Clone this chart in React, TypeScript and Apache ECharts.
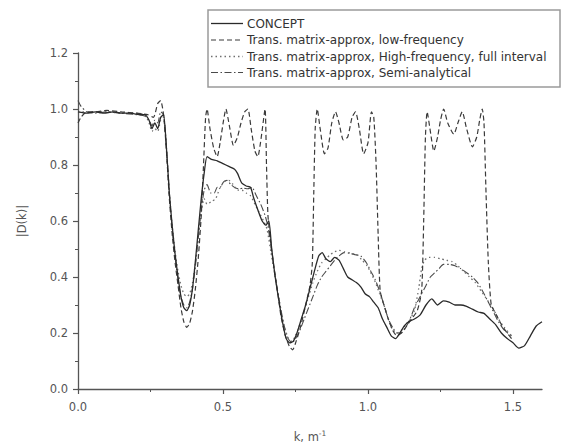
import { useEffect, useRef } from "react";
import * as echarts from "echarts";

const kConcept = [0, 0.03, 0.06, 0.09, 0.12, 0.15, 0.18, 0.21, 0.23, 0.245, 0.255, 0.265, 0.275, 0.285, 0.295, 0.305, 0.315, 0.325, 0.335, 0.345, 0.355, 0.365, 0.375, 0.385, 0.395, 0.405, 0.415, 0.425, 0.435, 0.445, 0.46, 0.48, 0.5, 0.52, 0.54, 0.55, 0.565, 0.58, 0.595, 0.605, 0.62, 0.635, 0.648, 0.658, 0.668, 0.68, 0.692, 0.705, 0.718, 0.73, 0.742, 0.755, 0.77, 0.785, 0.8, 0.815, 0.83, 0.842, 0.855, 0.87, 0.885, 0.9, 0.915, 0.93, 0.945, 0.96, 0.975, 0.99, 1.005, 1.02, 1.035, 1.05, 1.065, 1.08, 1.095, 1.11, 1.125, 1.14, 1.16, 1.18, 1.2, 1.22, 1.24, 1.26, 1.28, 1.3, 1.32, 1.34, 1.36, 1.38, 1.4, 1.42, 1.44, 1.46, 1.48, 1.5, 1.52, 1.54, 1.56, 1.58, 1.6];
const dConcept = [0.99, 0.985, 0.99, 0.985, 0.99, 0.985, 0.985, 0.98, 0.98, 0.96, 0.93, 0.95, 0.93, 0.97, 0.98, 0.86, 0.7, 0.58, 0.48, 0.4, 0.33, 0.29, 0.28, 0.3, 0.36, 0.46, 0.57, 0.68, 0.77, 0.83, 0.82, 0.815, 0.805, 0.795, 0.785, 0.77, 0.735, 0.725, 0.72, 0.685, 0.64, 0.6, 0.585, 0.6, 0.5, 0.4, 0.32, 0.24, 0.18, 0.165, 0.17, 0.2, 0.25, 0.3, 0.36, 0.42, 0.475, 0.487, 0.465, 0.455, 0.47, 0.46, 0.43, 0.4, 0.39, 0.38, 0.365, 0.34, 0.33, 0.31, 0.29, 0.25, 0.22, 0.19, 0.18, 0.2, 0.225, 0.24, 0.25, 0.265, 0.3, 0.322, 0.3, 0.315, 0.31, 0.3, 0.3, 0.295, 0.285, 0.275, 0.27, 0.25, 0.23, 0.2, 0.18, 0.165, 0.146, 0.155, 0.19, 0.225, 0.24];

const kLow = [0, 0.01, 0.03, 0.06, 0.1, 0.15, 0.2, 0.24, 0.26, 0.275, 0.285, 0.295, 0.305, 0.315, 0.325, 0.335, 0.345, 0.355, 0.365, 0.375, 0.385, 0.395, 0.405, 0.415, 0.425, 0.432, 0.44, 0.445, 0.455, 0.468, 0.48, 0.49, 0.502, 0.51, 0.522, 0.536, 0.55, 0.562, 0.575, 0.586, 0.597, 0.61, 0.62, 0.632, 0.645, 0.65, 0.655, 0.665, 0.675, 0.688, 0.7, 0.715, 0.73, 0.74, 0.752, 0.767, 0.785, 0.8, 0.808, 0.813, 0.818, 0.825, 0.835, 0.85, 0.862, 0.875, 0.888, 0.9, 0.915, 0.93, 0.945, 0.957, 0.97, 0.985, 1.0, 1.012, 1.02, 1.028, 1.035, 1.042, 1.055, 1.07, 1.085, 1.1, 1.115, 1.13, 1.15, 1.17, 1.185, 1.192, 1.198, 1.204, 1.215, 1.227, 1.24, 1.25, 1.261, 1.275, 1.296, 1.31, 1.325, 1.34, 1.36, 1.375, 1.385, 1.394, 1.4, 1.407, 1.415, 1.425, 1.44, 1.46, 1.48, 1.495];
const dLow = [0.95, 0.97, 0.99, 0.99, 0.995, 0.99, 0.985, 0.98, 0.97, 1.02, 1.03, 0.98, 0.85, 0.68, 0.55, 0.45, 0.37, 0.29, 0.24, 0.22, 0.235, 0.28, 0.36, 0.47, 0.62, 0.78, 0.97, 1.0, 0.93, 0.86, 0.83, 0.88, 0.96, 1.0, 0.94, 0.87, 0.9, 0.95, 0.99, 1.0, 0.93, 0.85, 0.83, 0.9, 1.0, 0.8, 0.62, 0.52, 0.44, 0.35, 0.26, 0.19, 0.15, 0.14, 0.17, 0.22, 0.3, 0.37, 0.45, 0.7, 0.93, 1.0, 0.93, 0.84, 0.86, 0.95, 0.99, 0.95, 0.89, 0.9, 0.97, 0.99, 0.93, 0.84, 0.88, 0.99, 0.97, 0.8, 0.55, 0.35, 0.3, 0.25, 0.21, 0.19, 0.2, 0.22, 0.25, 0.28, 0.35, 0.6, 0.9, 0.99, 0.92, 0.85, 0.9, 0.96, 1.0, 0.95, 0.91, 0.95, 0.99, 0.93, 0.865, 0.9, 0.96, 1.0, 0.95, 0.7, 0.45, 0.3, 0.27, 0.23, 0.2, 0.18];

const kHigh = [0, 0.05, 0.1, 0.15, 0.2, 0.23, 0.245, 0.255, 0.265, 0.275, 0.285, 0.295, 0.305, 0.315, 0.325, 0.335, 0.345, 0.355, 0.365, 0.375, 0.385, 0.395, 0.405, 0.415, 0.425, 0.435, 0.445, 0.46, 0.475, 0.49, 0.505, 0.52, 0.535, 0.55, 0.565, 0.58, 0.595, 0.61, 0.625, 0.64, 0.652, 0.665, 0.68, 0.695, 0.71, 0.725, 0.738, 0.75, 0.765, 0.78, 0.795, 0.81, 0.825, 0.84, 0.855, 0.87, 0.885, 0.9, 0.92, 0.94, 0.96, 0.98, 0.997, 1.012, 1.026, 1.04, 1.055, 1.07, 1.085, 1.1, 1.115, 1.13, 1.145, 1.16, 1.175, 1.185, 1.195, 1.21, 1.23, 1.25, 1.27, 1.29, 1.31, 1.33, 1.35, 1.37, 1.39, 1.41, 1.43, 1.45, 1.47, 1.495];
const dHigh = [0.99, 0.99, 0.99, 0.985, 0.985, 0.98, 0.95, 0.92, 0.93, 0.92, 0.96, 0.97, 0.86, 0.7, 0.58, 0.49, 0.42, 0.37, 0.34, 0.33, 0.34, 0.38, 0.45, 0.54, 0.63, 0.68, 0.66, 0.67, 0.68, 0.72, 0.74, 0.745, 0.73, 0.71, 0.71, 0.7, 0.69, 0.66, 0.63, 0.6, 0.57, 0.49, 0.4, 0.31, 0.23, 0.18, 0.17, 0.19, 0.23, 0.28, 0.33, 0.38, 0.42, 0.45, 0.465, 0.48, 0.49, 0.495, 0.49, 0.485, 0.48, 0.46, 0.44, 0.41, 0.38, 0.34, 0.3, 0.25, 0.21, 0.2, 0.21, 0.23, 0.25, 0.28, 0.36, 0.43, 0.46, 0.47, 0.47, 0.465, 0.46, 0.455, 0.44, 0.42, 0.4, 0.38, 0.35, 0.32, 0.29, 0.25, 0.22, 0.19];

const kSemi = [0, 0.01, 0.03, 0.06, 0.1, 0.15, 0.2, 0.23, 0.245, 0.255, 0.265, 0.275, 0.285, 0.295, 0.305, 0.315, 0.325, 0.335, 0.345, 0.355, 0.365, 0.375, 0.385, 0.395, 0.405, 0.415, 0.425, 0.435, 0.445, 0.458, 0.47, 0.48, 0.49, 0.502, 0.514, 0.527, 0.54, 0.555, 0.57, 0.585, 0.6, 0.615, 0.63, 0.645, 0.655, 0.668, 0.68, 0.695, 0.71, 0.725, 0.738, 0.75, 0.765, 0.78, 0.795, 0.81, 0.825, 0.84, 0.855, 0.87, 0.885, 0.9, 0.917, 0.935, 0.955, 0.975, 0.995, 1.01, 1.025, 1.04, 1.055, 1.07, 1.085, 1.1, 1.115, 1.13, 1.145, 1.16, 1.18, 1.2, 1.215, 1.23, 1.245, 1.26, 1.28, 1.3, 1.32, 1.34, 1.36, 1.378, 1.395, 1.41, 1.43, 1.45, 1.47, 1.495];
const dSemi = [1.03, 1.01, 0.99, 0.985, 0.99, 0.985, 0.98, 0.975, 0.96, 0.94, 0.96, 0.95, 0.99, 0.98, 0.86, 0.7, 0.57, 0.47, 0.39, 0.33, 0.3, 0.29, 0.31, 0.36, 0.44, 0.54, 0.64, 0.71, 0.73, 0.7, 0.7, 0.72, 0.72, 0.74, 0.745, 0.73, 0.72, 0.715, 0.717, 0.715, 0.72, 0.69, 0.66, 0.62, 0.58, 0.49, 0.4, 0.31, 0.23, 0.18, 0.165, 0.18, 0.21, 0.25, 0.29, 0.33, 0.37, 0.4, 0.42, 0.44, 0.46, 0.475, 0.487, 0.485, 0.48, 0.475, 0.45, 0.42, 0.39, 0.35, 0.3, 0.25, 0.22, 0.2, 0.2, 0.22, 0.25, 0.29, 0.33, 0.37, 0.4, 0.415, 0.43, 0.445, 0.445, 0.44, 0.43, 0.415, 0.4, 0.38, 0.35, 0.32, 0.28, 0.24, 0.21, 0.19];

const xMajorTicks = [0, 0.5, 1.0, 1.5];
const xMinorTicks = [0.25, 0.75, 1.25];
const seriesNames = [
  "CONCEPT",
  "Trans. matrix-approx, low-frequency",
  "Trans. matrix-approx, High-frequency, full interval",
  "Trans. matrix-approx, Semi-analytical",
];

const pairs = (k: number[], d: number[]) => k.map((x, i) => [x, d[i]]);

export default function App() {
  const ref = useRef<HTMLDivElement>(null);
  useEffect(() => {
    const chart = echarts.init(ref.current, null, { renderer: "svg" });
    const font = "'DejaVu Sans', 'Liberation Sans', Arial, sans-serif";
    const axisColor = "#555";
    const labelColor = "#555";
    const dashes: any[] = ["solid", [5, 3], [1.5, 3], [7, 2.5, 1.5, 2.5]];
    const colors = ["#2a2a2a", "#3a3a3a", "#707070", "#4a4a4a"];
    const widths = [1.3, 1.2, 1.3, 1.1];
    const datasets = [pairs(kConcept, dConcept), pairs(kLow, dLow), pairs(kHigh, dHigh), pairs(kSemi, dSemi)];

    const boxX = 208, boxY = 10, boxW = 352, boxH = 77;
    const rowY = [23.5, 40, 56.5, 72.5];
    const legendEls: any[] = [
      {
        type: "rect",
        shape: { x: boxX, y: boxY, width: boxW, height: boxH },
        style: { fill: "#fff", stroke: "#9a9a9a", lineWidth: 1.5 },
        z: 10,
      },
    ];
    seriesNames.forEach((name, i) => {
      legendEls.push({
        type: "line",
        shape: { x1: 211, y1: rowY[i], x2: 243, y2: rowY[i] },
        style: { stroke: colors[i], lineWidth: widths[i], lineDash: dashes[i] === "solid" ? null : dashes[i] },
        z: 11,
      });
      legendEls.push({
        type: "text",
        x: 247,
        y: rowY[i],
        style: { text: name, fontSize: 12, fontFamily: font, fill: "#333", verticalAlign: "middle", align: "left" },
        z: 11,
      });
    });

    const option: any = {
      animation: false,
      backgroundColor: "#fff",
      grid: { left: 78, top: 53, width: 464, height: 340, containLabel: false },
      xAxis: [
        {
          type: "value",
          min: 0,
          max: 1.6,
          name: "k, m{sup|-1}",
          nameLocation: "middle",
          nameGap: 40,
          nameTextStyle: {
            fontSize: 11.5,
            fontFamily: font,
            color: labelColor,
            rich: { sup: { fontSize: 7.5, fontFamily: font, color: labelColor, verticalAlign: "top", lineHeight: 16 } },
          },
          axisLine: { lineStyle: { color: axisColor, width: 1.3 } },
          axisTick: { customValues: xMajorTicks, length: 5, lineStyle: { color: axisColor, width: 1.2 } },
          axisLabel: {
            customValues: xMajorTicks,
            formatter: (v: number) => v.toFixed(1),
            fontSize: 11.5,
            fontFamily: font,
            color: labelColor,
            margin: 12,
          },
          splitLine: { show: false },
        },
        {
          type: "value",
          min: 0,
          max: 1.6,
          position: "bottom",
          axisLine: { show: false },
          axisTick: { customValues: xMinorTicks, length: 3, lineStyle: { color: axisColor, width: 1 } },
          axisLabel: { show: false },
          splitLine: { show: false },
        },
      ],
      yAxis: {
        type: "value",
        min: 0,
        max: 1.2,
        interval: 0.2,
        name: "|D(k)|",
        nameLocation: "middle",
        nameGap: 50,
        nameRotate: 90,
        nameTextStyle: { fontSize: 11.5, fontFamily: font, color: labelColor },
        axisLine: { show: true, lineStyle: { color: axisColor, width: 1.3 } },
        axisTick: { show: true, length: 5, lineStyle: { color: axisColor, width: 1.2 } },
        minorTick: { show: true, splitNumber: 2, length: 3, lineStyle: { color: axisColor, width: 1 } },
        axisLabel: {
          formatter: (v: number) => v.toFixed(1),
          fontSize: 11.5,
          fontFamily: font,
          color: labelColor,
          margin: 10,
        },
        splitLine: { show: false },
        minorSplitLine: { show: false },
      },
      series: datasets.map((data, i) => ({
        name: seriesNames[i],
        type: "line",
        xAxisIndex: 0,
        data,
        showSymbol: false,
        symbol: "none",
        smooth: 0.2,
        lineStyle: { color: colors[i], width: widths[i], type: dashes[i] },
        z: 4 - i,
      })),
      graphic: { elements: legendEls },
    };
    chart.setOption(option);
    return () => chart.dispose();
  }, []);
  return (
    <div
      ref={ref}
      style={{ position: "fixed", left: 0, top: 0, width: 562, height: 448, background: "#fff" }}
    />
  );
}
